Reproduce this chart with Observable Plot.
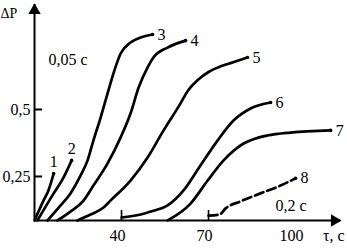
<!DOCTYPE html>
<html><head><meta charset="utf-8">
<script src="https://cdn.jsdelivr.net/npm/d3@7"></script>
<script src="https://cdn.jsdelivr.net/npm/@observablehq/plot@0.6"></script>
<style>
body{margin:0;background:#fff}
</style>
</head><body><div id="chart"></div>
<script>
// Curve data: [τ (s), ΔP]
const curveIds = ["1","2","3","4","5","6","7","8"];
const curve1 = [[10,0.086],[13.1,0.16],[14.8,0.198],[16.6,0.261]];
const curve2 = [[11,0.086],[16.6,0.187],[20,0.246],[22.8,0.31]];
const curve3 = [[14.5,0.086],[19,0.142],[22.4,0.187],[25.9,0.254],[28.3,0.31],[30.3,0.384],[32.8,0.47],[35.2,0.56],[37.2,0.634],[39.7,0.709],[43.1,0.75],[46.6,0.769],[50.7,0.78]];
const curve4 = [[17.9,0.086],[22.4,0.119],[26.9,0.16],[30.3,0.216],[35.2,0.299],[39.7,0.396],[43.1,0.485],[45.9,0.582],[49,0.657],[51,0.694],[55.9,0.731],[62.1,0.757]];
const curve5 = [[24.8,0.086],[29.3,0.108],[33.8,0.134],[36.2,0.16],[43.1,0.235],[49,0.321],[54.5,0.422],[60.3,0.522],[63,0.572],[66.5,0.612],[70,0.64],[74,0.66],[78.5,0.676],[83.4,0.694]];
const curve6 = [[40,0.097],[46.6,0.108],[50,0.119],[55.9,0.142],[61.4,0.198],[67.2,0.291],[73.1,0.384],[78.6,0.459],[84.5,0.504],[91.4,0.526]];
const curve7 = [[55.9,0.086],[63.8,0.149],[69.7,0.235],[75.2,0.31],[82.1,0.373],[86.2,0.392],[90.3,0.403],[98.3,0.414],[112.1,0.422]];
const curve8 = [[70,0.104],[73.8,0.108],[75.9,0.131],[81,0.157],[87.9,0.187],[94.8,0.216],[100,0.243]];
const curves = [curve1,curve2,curve3,curve4,curve5,curve6,curve7,curve8];

const xTicks = [40,70,100];
const yTicks = [0.25,0.5];
const startMarks = [40,70];
const noteTexts = ["0,05 c","0,2 c"];
const noteT = [14.8,93.1];
const noteP = [0.687,0.142];

const xDomain = [10,115.5];
const yDomain = [0.0858,0.8918];

const rows = curves.flatMap((pts,i)=>pts.map(([t,p])=>({id:curveIds[i],t,p})));
const ends = curves.map((pts,i)=>({id:curveIds[i],t:pts[pts.length-1][0],p:pts[pts.length-1][1]}));
const notes = noteTexts.map((s,i)=>({s,t:noteT[i],p:noteP[i]}));
const fmt = d => String(d).replace(".", ",");
const FF = "Liberation Serif";

const chart = Plot.plot({
  width:347, height:248,
  marginLeft:34, marginRight:7, marginTop:4, marginBottom:28,
  style:{background:"#fff", color:"#000"},
  x:{domain:xDomain, axis:null},
  y:{domain:yDomain, axis:null},
  marks:[
    Plot.ruleX([xDomain[0]], {stroke:"#000", strokeWidth:2}),
    Plot.ruleY([yDomain[0]], {stroke:"#000", strokeWidth:2}),
    Plot.dot([[xDomain[0], yDomain[1]]], {x:d=>d[0], y:d=>d[1], symbol:"triangle", r:4.6, fill:"#000", stroke:"none", dy:6}),
    Plot.dot([[xDomain[1], yDomain[0]]], {x:d=>d[0], y:d=>d[1], symbol:"triangle", r:4.6, fill:"#000", stroke:"none", rotate:90, dx:-6}),
    Plot.ruleY(yTicks, {x1:xDomain[0], x2:xDomain[0]+2.8, stroke:"#000", strokeWidth:2}),
    Plot.ruleX(startMarks, {y1:yDomain[0], y2:0.123, stroke:"#000", strokeWidth:1.6}),
    Plot.axisY({ticks:yTicks, tickSize:0, tickPadding:4, tickFormat:fmt, fontSize:16, label:null}),
    Plot.axisX({ticks:xTicks, tickSize:0, tickPadding:9, tickFormat:d=>String(d), fontSize:16, label:null, dx:-4}),
    Plot.line(rows.filter(d=>d.id!=="8"), {x:"t", y:"p", z:"id", curve:"monotone-x", stroke:"#000", strokeWidth:2.7}),
    Plot.line(rows.filter(d=>d.id==="8"), {x:"t", y:"p", curve:"monotone-x", stroke:"#000", strokeWidth:2.7, strokeDasharray:"9,4"}),
    Plot.dot(ends, {x:"t", y:"p", r:1.8, fill:"#000", stroke:"none"}),
    Plot.text(ends.filter(d=>d.id==="1"||d.id==="2"), {x:"t", y:"p", text:"id", dy:-12, fontSize:16}),
    Plot.text(ends.filter(d=>d.id!=="1"&&d.id!=="2"), {x:"t", y:"p", text:"id", dx:5, textAnchor:"start", fontSize:16}),
    Plot.text(notes, {x:"t", y:"p", text:"s", textAnchor:"start", fontSize:16}),
    Plot.text(["ΔP"], {frameAnchor:"top-left", dx:-34, dy:4, textAnchor:"start", fontSize:14, letterSpacing:"2px"}),
    Plot.text(["τ, c"], {frameAnchor:"bottom-right", dx:4, dy:20, textAnchor:"end", fontSize:16})
  ]
});
chart.style.setProperty("font-family", FF, "important");
chart.querySelectorAll("g, text, tspan").forEach(el => {
  el.setAttribute("font-family", FF);
  el.style.setProperty("font-family", FF, "important");
});
document.getElementById("chart").append(chart);
</script>
</body></html>
